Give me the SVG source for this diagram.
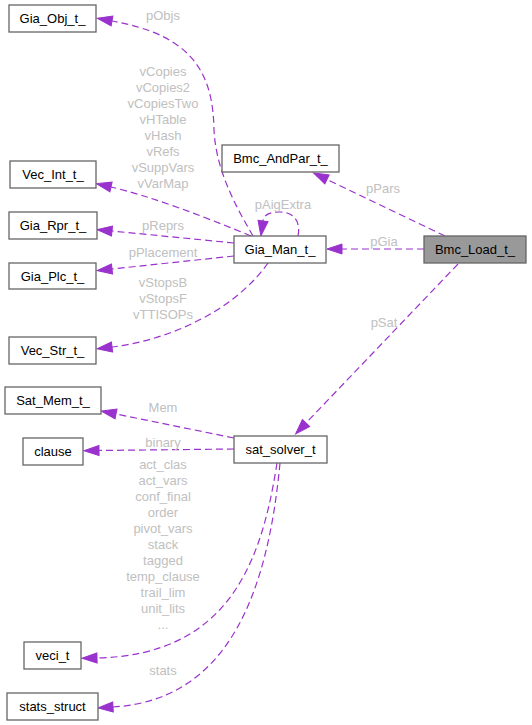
<svg xmlns="http://www.w3.org/2000/svg" width="532" height="725" viewBox="0 0 532 725">
<style>
.box{fill:#ffffff;stroke:#666666;stroke-width:1.3}
.hl{fill:#999999;stroke:#666666;stroke-width:1.3}
.nt{font-family:"Liberation Sans",Arial,sans-serif;font-size:13px;fill:#000000;text-anchor:middle}
.e{fill:none;stroke:#9a32cd;stroke-width:1.2;stroke-dasharray:7,4}
.lb{font-family:"Liberation Sans",Arial,sans-serif;font-size:13px;fill:#c0c0c0;text-anchor:middle}
</style>
<defs>
<marker id="ah" markerUnits="userSpaceOnUse" markerWidth="16" markerHeight="12" refX="0" refY="5" orient="auto" overflow="visible">
<path d="M0,0 L15,5 L0,10 z" fill="#9a32cd" stroke="#9a32cd" stroke-width="1"/>
</marker>
</defs>
<rect width="532" height="725" fill="#ffffff"/>
<g id="edges">
<path class="e" marker-end="url(#ah)" d="M424,249 L342,249"/>
<path class="e" marker-end="url(#ah)" d="M445,236 L327,179.5"/>
<path class="e" marker-end="url(#ah)" d="M458,264 L306,423"/>
<path class="e" marker-end="url(#ah)" d="M253,236 C235,205 216,170 214,130 C213,70 190,35 112,21"/>
<path class="e" marker-end="url(#ah)" d="M251,236 C200,215 150,196 111,187"/>
<path class="e" marker-end="url(#ah)" d="M298,236 C301,222 294,212 280,212 C270,212 264,214 263,221"/>
<path class="e" marker-end="url(#ah)" d="M234,243 L112,231"/>
<path class="e" marker-end="url(#ah)" d="M234,256 L112,269"/>
<path class="e" marker-end="url(#ah)" d="M268,263 C235,310 170,340 112,347"/>
<path class="e" marker-end="url(#ah)" d="M234,438 L116,414"/>
<path class="e" marker-end="url(#ah)" d="M234,449 L99,450.5"/>
<path class="e" marker-end="url(#ah)" d="M277,463 C262,560 230,655 97,658"/>
<path class="e" marker-end="url(#ah)" d="M280,463 C268,590 230,700 113,707"/>
</g>
<g id="labels">
<text class="lb" x="163" y="20">pObjs</text>
<text class="lb" x="163" y="76">vCopies</text>
<text class="lb" x="163" y="92">vCopies2</text>
<text class="lb" x="163" y="108">vCopiesTwo</text>
<text class="lb" x="163" y="124">vHTable</text>
<text class="lb" x="163" y="140">vHash</text>
<text class="lb" x="163" y="156">vRefs</text>
<text class="lb" x="163" y="172">vSuppVars</text>
<text class="lb" x="163" y="188">vVarMap</text>
<text class="lb" x="283" y="209">pAigExtra</text>
<text class="lb" x="163" y="230">pReprs</text>
<text class="lb" x="163" y="257">pPlacement</text>
<text class="lb" x="163" y="287">vStopsB</text>
<text class="lb" x="163" y="303">vStopsF</text>
<text class="lb" x="163" y="319">vTTISOPs</text>
<text class="lb" x="383" y="193">pPars</text>
<text class="lb" x="384" y="246">pGia</text>
<text class="lb" x="384" y="327">pSat</text>
<text class="lb" x="163" y="412">Mem</text>
<text class="lb" x="163" y="447">binary</text>
<text class="lb" x="163" y="469">act_clas</text>
<text class="lb" x="163" y="485">act_vars</text>
<text class="lb" x="163" y="501">conf_final</text>
<text class="lb" x="163" y="517">order</text>
<text class="lb" x="163" y="533">pivot_vars</text>
<text class="lb" x="163" y="549">stack</text>
<text class="lb" x="163" y="565">tagged</text>
<text class="lb" x="163" y="581">temp_clause</text>
<text class="lb" x="163" y="597">trail_lim</text>
<text class="lb" x="163" y="613">unit_lits</text>
<text class="lb" x="163" y="629">...</text>
<text class="lb" x="163" y="675">stats</text>
</g>
<g id="Gia_Obj_t_"><rect class="box" x="9" y="5" width="87" height="27"/><text class="nt" x="52.5" y="23">Gia_Obj_t_</text></g>
<g id="Vec_Int_t_"><rect class="box" x="10" y="161" width="86" height="27"/><text class="nt" x="53" y="179">Vec_Int_t_</text></g>
<g id="Bmc_AndPar_t_"><rect class="box" x="222" y="145" width="117" height="27"/><text class="nt" x="280.5" y="163">Bmc_AndPar_t_</text></g>
<g id="Gia_Rpr_t_"><rect class="box" x="9" y="212" width="88" height="27"/><text class="nt" x="53" y="230">Gia_Rpr_t_</text></g>
<g id="Gia_Man_t_"><rect class="box" x="234" y="236" width="92" height="27"/><text class="nt" x="280" y="254">Gia_Man_t_</text></g>
<g id="Bmc_Load_t_"><rect class="hl" x="424" y="236" width="102" height="27"/><text class="nt" x="475" y="254">Bmc_Load_t_</text></g>
<g id="Gia_Plc_t_"><rect class="box" x="9" y="263" width="87" height="26"/><text class="nt" x="52.5" y="280.5">Gia_Plc_t_</text></g>
<g id="Vec_Str_t_"><rect class="box" x="9" y="337" width="87" height="27"/><text class="nt" x="52.5" y="355">Vec_Str_t_</text></g>
<g id="Sat_Mem_t_"><rect class="box" x="5" y="387" width="96" height="27"/><text class="nt" x="53" y="405">Sat_Mem_t_</text></g>
<g id="clause"><rect class="box" x="23" y="438" width="60" height="27"/><text class="nt" x="53" y="456">clause</text></g>
<g id="sat_solver_t"><rect class="box" x="234" y="436" width="93" height="27"/><text class="nt" x="280.5" y="454">sat_solver_t</text></g>
<g id="veci_t"><rect class="box" x="24" y="642" width="57" height="27"/><text class="nt" x="52.5" y="660">veci_t</text></g>
<g id="stats_struct"><rect class="box" x="7" y="693" width="91" height="27"/><text class="nt" x="52.5" y="711">stats_struct</text></g>
</svg>
